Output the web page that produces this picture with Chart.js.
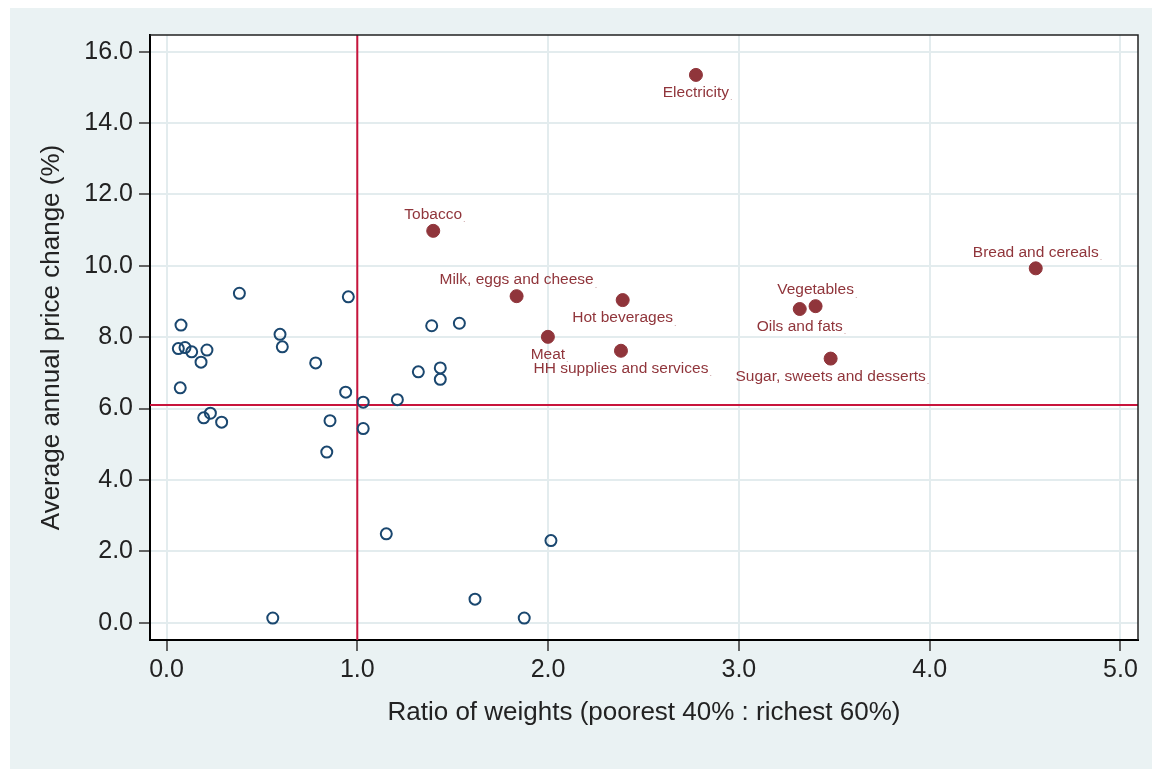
<!DOCTYPE html>
<html>
<head>
<meta charset="utf-8">
<script src="https://cdn.jsdelivr.net/npm/chart.js@4.4.1/dist/chart.umd.min.js"></script>
<style>
  body { margin: 0; background: #fff; }
  canvas { display: block; }
</style>
</head>
<body>
<canvas id="ratioChart" width="1152" height="769"></canvas>
<script>
// other categories (hollow markers)
const otherX = [0.076, 0.062, 0.097, 0.132, 0.212, 0.181, 0.072, 0.382, 0.595, 0.607,
                0.782, 0.939, 0.953, 1.031, 1.031, 0.857, 0.840, 0.230, 0.195, 0.289,
                0.557, 1.152, 1.320, 1.390, 1.535, 1.435, 1.435, 1.210, 1.617, 1.875, 2.015];
const otherY = [8.34, 7.68, 7.71, 7.59, 7.64, 7.30, 6.58, 9.23, 8.08, 7.73,
                7.28, 6.46, 9.13, 6.18, 5.44, 5.66, 4.78, 5.87, 5.74, 5.62,
                0.13, 2.49, 7.03, 8.32, 8.39, 7.14, 6.82, 6.25, 0.66, 0.13, 2.30];

// labelled categories (filled markers)
const keyNames = ['Electricity', 'Tobacco', 'Bread and cereals', 'Milk, eggs and cheese',
                  'Hot beverages', 'Vegetables', 'Oils and fats', 'Meat',
                  'HH supplies and services', 'Sugar, sweets and desserts'];
const keyX = [2.775, 1.398, 4.556, 1.835, 2.391, 3.402, 3.319, 1.999, 2.382, 3.481];
const keyY = [15.35, 10.98, 9.93, 9.15, 9.04, 8.87, 8.79, 8.01, 7.62, 7.40];
const keySide = ['below', 'above', 'above', 'above', 'below', 'above', 'below', 'below', 'below', 'below'];

// reference lines
const refX = 1.0;
const refY = 6.1;

const xTicks = [0, 1, 2, 3, 4, 5];
const yTicks = [0, 2, 4, 6, 8, 10, 12, 14, 16];
const xMin = -0.0865, xMax = 5.092;
const yMin = -0.485, yMax = 16.468;

const FONT = "'Liberation Sans', Arial, sans-serif";
const MAROON = '#90353b';
const NAVY = '#1a476f';
const RED = '#c8143c';

const frame = {
    id: 'frame',
    beforeDraw(chart) {
        const { ctx, chartArea: a } = chart;
        ctx.save();
        ctx.fillStyle = '#ffffff';
        ctx.fillRect(0, 0, chart.width, chart.height);
        ctx.fillStyle = '#eaf2f3';
        ctx.fillRect(10, 8, chart.width - 10, chart.height - 8);
        ctx.fillStyle = '#ffffff';
        ctx.fillRect(a.left, a.top, a.right - a.left, a.bottom - a.top);
        ctx.restore();
    },
    afterDraw(chart) {
        const { ctx, chartArea: a } = chart;
        ctx.save();
        ctx.strokeStyle = '#222';
        ctx.lineWidth = 1.5;
        ctx.beginPath();
        ctx.moveTo(a.left, a.top);
        ctx.lineTo(a.right, a.top);
        ctx.lineTo(a.right, a.bottom);
        ctx.stroke();
        ctx.restore();
    }
};

const pointLabels = {
    id: 'pointLabels',
    afterDatasetsDraw(chart) {
        const { ctx } = chart;
        const meta = chart.getDatasetMeta(1);
        ctx.save();
        ctx.font = '15.5px ' + FONT;
        ctx.textAlign = 'center';
        ctx.textBaseline = 'middle';
        meta.data.forEach((pt, i) => {
            const y = keySide[i] === 'above' ? pt.y - 16 : pt.y + 18;
            ctx.fillStyle = MAROON;
            ctx.fillText(keyNames[i], pt.x, y);
            const w = ctx.measureText(keyNames[i]).width;
            ctx.fillStyle = '#c49a9d';
            ctx.font = '9px ' + FONT;
            ctx.textAlign = 'left';
            ctx.fillText('.', pt.x + w / 2 + 1, y + 5);
            ctx.font = '15.5px ' + FONT;
            ctx.textAlign = 'center';
        });
        ctx.restore();
    }
};

const config = {
    type: 'scatter',
    data: {
        datasets: [
            {
                label: 'Other',
                data: otherX.map((x, i) => ({ x: x, y: otherY[i] })),
                pointRadius: 5.5,
                pointBackgroundColor: 'rgba(0,0,0,0)',
                pointBorderColor: NAVY,
                pointBorderWidth: 2,
                order: 1
            },
            {
                label: 'Key',
                data: keyX.map((x, i) => ({ x: x, y: keyY[i] })),
                pointRadius: 6.5,
                pointBackgroundColor: MAROON,
                pointBorderColor: MAROON,
                pointBorderWidth: 1,
                order: 0
            },
            {
                label: 'refX',
                type: 'line',
                data: [{ x: refX, y: yMin }, { x: refX, y: yMax }],
                borderColor: RED,
                borderWidth: 2,
                pointRadius: 0,
                order: 3
            },
            {
                label: 'refY',
                type: 'line',
                data: [{ x: xMin, y: refY }, { x: xMax, y: refY }],
                borderColor: RED,
                borderWidth: 2,
                pointRadius: 0,
                order: 3
            }
        ]
    },
    options: {
        responsive: false,
        animation: false,
        layout: { padding: { top: 35, right: 14, left: 0, bottom: 0 } },
        plugins: {
            legend: { display: false },
            tooltip: { enabled: false }
        },
        scales: {
            x: {
                type: 'linear',
                min: xMin,
                max: xMax,
                afterBuildTicks: scale => { scale.ticks = xTicks.map(v => ({ value: v })); },
                afterFit: scale => { scale.height = 129; },
                ticks: {
                    autoSkip: false,
                    maxRotation: 0,
                    padding: 4,
                    color: '#222',
                    font: { family: FONT, size: 25 },
                    callback: v => v.toFixed(1)
                },
                grid: {
                    color: '#e3ecee',
                    lineWidth: 2,
                    tickColor: '#333',
                    tickWidth: 1.5,
                    tickLength: 11
                },
                border: { color: '#000', width: 2 },
                title: {
                    display: true,
                    text: 'Ratio of weights (poorest 40% : richest 60%)',
                    color: '#222',
                    font: { family: FONT, size: 26 },
                    padding: { top: 0, bottom: 41 }
                }
            },
            y: {
                type: 'linear',
                min: yMin,
                max: yMax,
                afterBuildTicks: scale => { scale.ticks = yTicks.map(v => ({ value: v })); },
                afterFit: scale => { scale.width = 150; },
                ticks: {
                    autoSkip: false,
                    padding: 6,
                    color: '#222',
                    font: { family: FONT, size: 25 },
                    callback: v => v.toFixed(1)
                },
                grid: {
                    color: '#e3ecee',
                    lineWidth: 2,
                    tickColor: '#333',
                    tickWidth: 1.5,
                    tickLength: 11
                },
                border: { color: '#000', width: 2 },
                title: {
                    display: true,
                    text: 'Average annual price change (%)',
                    color: '#222',
                    font: { family: FONT, size: 26 },
                    padding: { top: 36, bottom: 0 }
                }
            }
        }
    },
    plugins: [frame, pointLabels]
};

const ctx = document.getElementById('ratioChart').getContext('2d');
const ratioChart = new Chart(ctx, config);
</script>
</body>
</html>
